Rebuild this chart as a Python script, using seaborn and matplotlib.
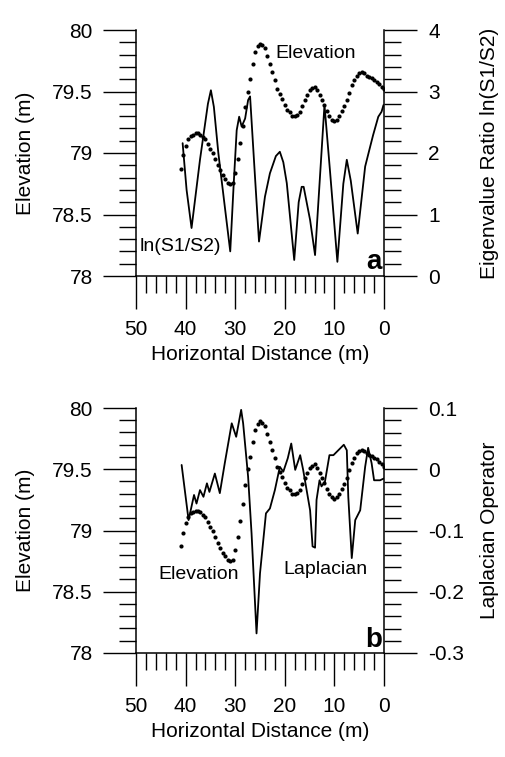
"""Elevation profile with eigenvalue ratio (a) and Laplacian operator (b)."""
import numpy as np
import pandas as pd
import matplotlib
matplotlib.use("Agg")
import matplotlib.pyplot as plt
import seaborn as sns
from matplotlib.ticker import MultipleLocator, FuncFormatter

# elevation profile (shared by both panels), read every 0.5 m
ELEV_X = [41.0, 40.5, 40.0, 39.5, 39.0, 38.5, 38.0, 37.5, 37.0, 36.5,
          36.0, 35.5, 35.0, 34.5, 34.0, 33.5, 33.0, 32.5, 32.0, 31.5,
          31.0, 30.5, 30.0, 29.5, 29.0, 28.5, 28.0, 27.5, 27.0, 26.5,
          26.0, 25.5, 25.0, 24.5, 24.0, 23.5, 23.0, 22.5, 22.0, 21.5,
          21.0, 20.5, 20.0, 19.5, 19.0, 18.5, 18.0, 17.5, 17.0, 16.5,
          16.0, 15.5, 15.0, 14.5, 14.0, 13.5, 13.0, 12.5, 12.0, 11.5,
          11.0, 10.5, 10.0, 9.5, 9.0, 8.5, 8.0, 7.5, 7.0, 6.5,
          6.0, 5.5, 5.0, 4.5, 4.0, 3.5, 3.0, 2.5, 2.0, 1.5,
          1.0, 0.5, 0.0]
ELEV = [78.87, 78.98, 79.06, 79.11, 79.14, 79.15, 79.16, 79.16, 79.15, 79.13,
        79.11, 79.07, 79.03, 79.00, 78.95, 78.90, 78.86, 78.82, 78.79, 78.76,
        78.75, 78.76, 78.84, 78.95, 79.08, 79.22, 79.37, 79.50, 79.60, 79.72,
        79.82, 79.87, 79.89, 79.88, 79.85, 79.79, 79.72, 79.66, 79.59, 79.52,
        79.48, 79.44, 79.39, 79.35, 79.33, 79.30, 79.30, 79.31, 79.33, 79.38,
        79.43, 79.47, 79.51, 79.53, 79.54, 79.51, 79.47, 79.43, 79.39, 79.34,
        79.30, 79.27, 79.26, 79.27, 79.30, 79.34, 79.38, 79.43, 79.49, 79.55,
        79.59, 79.63, 79.65, 79.66, 79.65, 79.63, 79.62, 79.61, 79.59, 79.58,
        79.56, 79.54, 79.52]

# eigenvalue ratio ln(S1/S2)
RATIO_X = [40.6, 39.8, 38.8, 37.1, 35.5, 34.9, 34.3, 33.4, 32.1, 31.0,
           30.3, 29.7, 29.2, 28.7, 28.0, 27.4, 27.0, 26.0, 25.2, 24.0,
           23.0, 21.8, 21.0, 20.3, 19.6, 18.1, 17.2, 16.6, 16.2, 14.9,
           13.9, 12.0, 10.9, 9.4, 8.2, 7.5, 6.7, 5.3, 3.8, 2.8,
           2.2, 1.15, 0.5, 0.1]
RATIO = [2.16, 1.40, 0.78, 1.89, 2.80, 3.02, 2.75, 2.00, 1.13, 0.40,
         1.50, 2.37, 2.59, 2.43, 2.56, 2.86, 2.92, 1.60, 0.56, 1.29,
         1.67, 1.95, 2.02, 1.85, 1.51, 0.26, 1.20, 1.45, 1.45, 0.91,
         0.34, 2.78, 1.72, 0.23, 1.50, 1.89, 1.55, 0.69, 1.78, 2.10,
         2.29, 2.59, 2.67, 2.78]

# Laplacian operator
LAP_X = [40.8, 39.4, 38.3, 37.8, 37.1, 36.4, 35.7, 35.2, 34.1, 33.1,
         32.1, 30.7, 29.8, 28.8, 28.4, 27.4, 26.7, 25.7, 25.0, 23.8,
         23.0, 22.0, 21.0, 20.3, 19.4, 18.7, 17.9, 16.9, 16.3, 14.9,
         14.4, 13.9, 13.6, 13.0, 12.6, 11.9, 11.0, 10.2, 8.1, 7.5,
         7.2, 6.5, 5.8, 4.8, 3.8, 3.2, 2.5, 2.0, 0.8, 0.0]
LAP = [0.007, -0.083, -0.042, -0.056, -0.034, -0.045, -0.023, -0.037, -0.007, -0.039,
       0.010, 0.075, 0.053, 0.097, 0.075, -0.012, -0.105, -0.268, -0.170, -0.072,
       -0.064, -0.034, 0.004, -0.004, 0.018, 0.042, -0.001, 0.023, -0.001, -0.067,
       -0.126, -0.128, -0.050, -0.018, -0.028, -0.020, 0.023, 0.023, 0.040, 0.031,
       -0.045, -0.145, -0.083, -0.067, 0.004, 0.035, 0.010, -0.018, -0.018, -0.015]

sns.set_style("ticks")
plt.rcParams["font.family"] = ["Liberation Sans", "DejaVu Sans"]
plt.rcParams.update({"text.color": "black", "axes.labelcolor": "black",
                     "xtick.color": "black", "ytick.color": "black",
                     "axes.edgecolor": "black"})

FS = 15
W, H = 506, 757


def fmt(v, _pos):
    return f"{round(v, 3) + 0.0:g}"


def style_axis(ax, side):
    ax.tick_params(axis="y", which="major", direction="out", length=24,
                   width=1.0, labelsize=FS, pad=7 if side == "left" else 8)
    ax.tick_params(axis="y", which="minor", direction="out", length=12,
                   width=1.0)
    ax.yaxis.set_major_formatter(FuncFormatter(fmt))
    for s in ax.spines.values():
        s.set_linewidth(1.1)
        s.set_color("black")
    ax.spines["top"].set_visible(False)


def draw_panel(rect, other_x, other_y, ylim2, major2, minor2, right_label,
               texts, letter):
    ax = fig.add_axes(rect)
    elev = pd.DataFrame({"x": ELEV_X, "elev": ELEV})
    sns.scatterplot(data=elev, x="x", y="elev", ax=ax, s=9, color="black",
                    linewidth=0, zorder=3)
    ax.set_xlim(50, 0)
    ax.set_ylim(78, 80)
    ax.xaxis.set_major_locator(MultipleLocator(10))
    ax.xaxis.set_minor_locator(MultipleLocator(2))
    ax.yaxis.set_major_locator(MultipleLocator(0.5))
    ax.yaxis.set_minor_locator(MultipleLocator(0.1))
    ax.tick_params(axis="x", which="major", direction="out", length=24,
                   width=1.0, labelsize=FS, pad=8)
    ax.tick_params(axis="x", which="minor", direction="out", length=12,
                   width=1.0)
    style_axis(ax, "left")
    ax.spines["right"].set_visible(False)
    ax.set_xlabel("Horizontal Distance (m)", fontsize=FS, labelpad=4)
    ax.set_ylabel("Elevation (m)", fontsize=FS)
    ax.yaxis.set_label_coords(-0.407, 0.5)

    ax2 = ax.twinx()
    other = pd.DataFrame({"x": other_x, "v": other_y})
    sns.lineplot(data=other, x="x", y="v", ax=ax2, color="black",
                 linewidth=1.3, sort=True)
    ax2.set_xlim(50, 0)
    ax2.set_ylim(*ylim2)
    ax2.yaxis.set_major_locator(MultipleLocator(major2))
    ax2.yaxis.set_minor_locator(MultipleLocator(minor2))
    style_axis(ax2, "right")
    ax2.spines["left"].set_visible(False)
    ax2.spines["bottom"].set_visible(False)
    ax2.set_ylabel(right_label, fontsize=FS)
    ax2.yaxis.set_label_coords(1.387, 0.5)

    for tx, ty, s, ha in texts:
        ax.text(tx, ty, s, fontsize=14, ha=ha, va="center")
    ax.text(0.4, letter[1], letter[0], fontsize=20, fontweight="bold",
            ha="right", va="center")
    return ax, ax2


fig = plt.figure(figsize=(W / 100, H / 100), dpi=100)

draw_panel([136 / W, 1 - 276 / H, 248 / W, 246 / H],
           RATIO_X, RATIO, (0, 4), 1, 0.2, "Eigenvalue Ratio ln(S1/S2)",
           [(22.0, 79.81, "Elevation", "left"),
            (49.2, 78.24, "ln(S1/S2)", "left")],
           ("a", 78.11))

draw_panel([136 / W, 1 - 653 / H, 248 / W, 245 / H],
           LAP_X, LAP, (-0.3, 0.1), 0.1, 0.02, "Laplacian Operator",
           [(37.3, 78.64, "Elevation", "center"),
            (11.8, 78.68, "Laplacian", "center")],
           ("b", 78.11))

fig.savefig("out.png", dpi=100)
